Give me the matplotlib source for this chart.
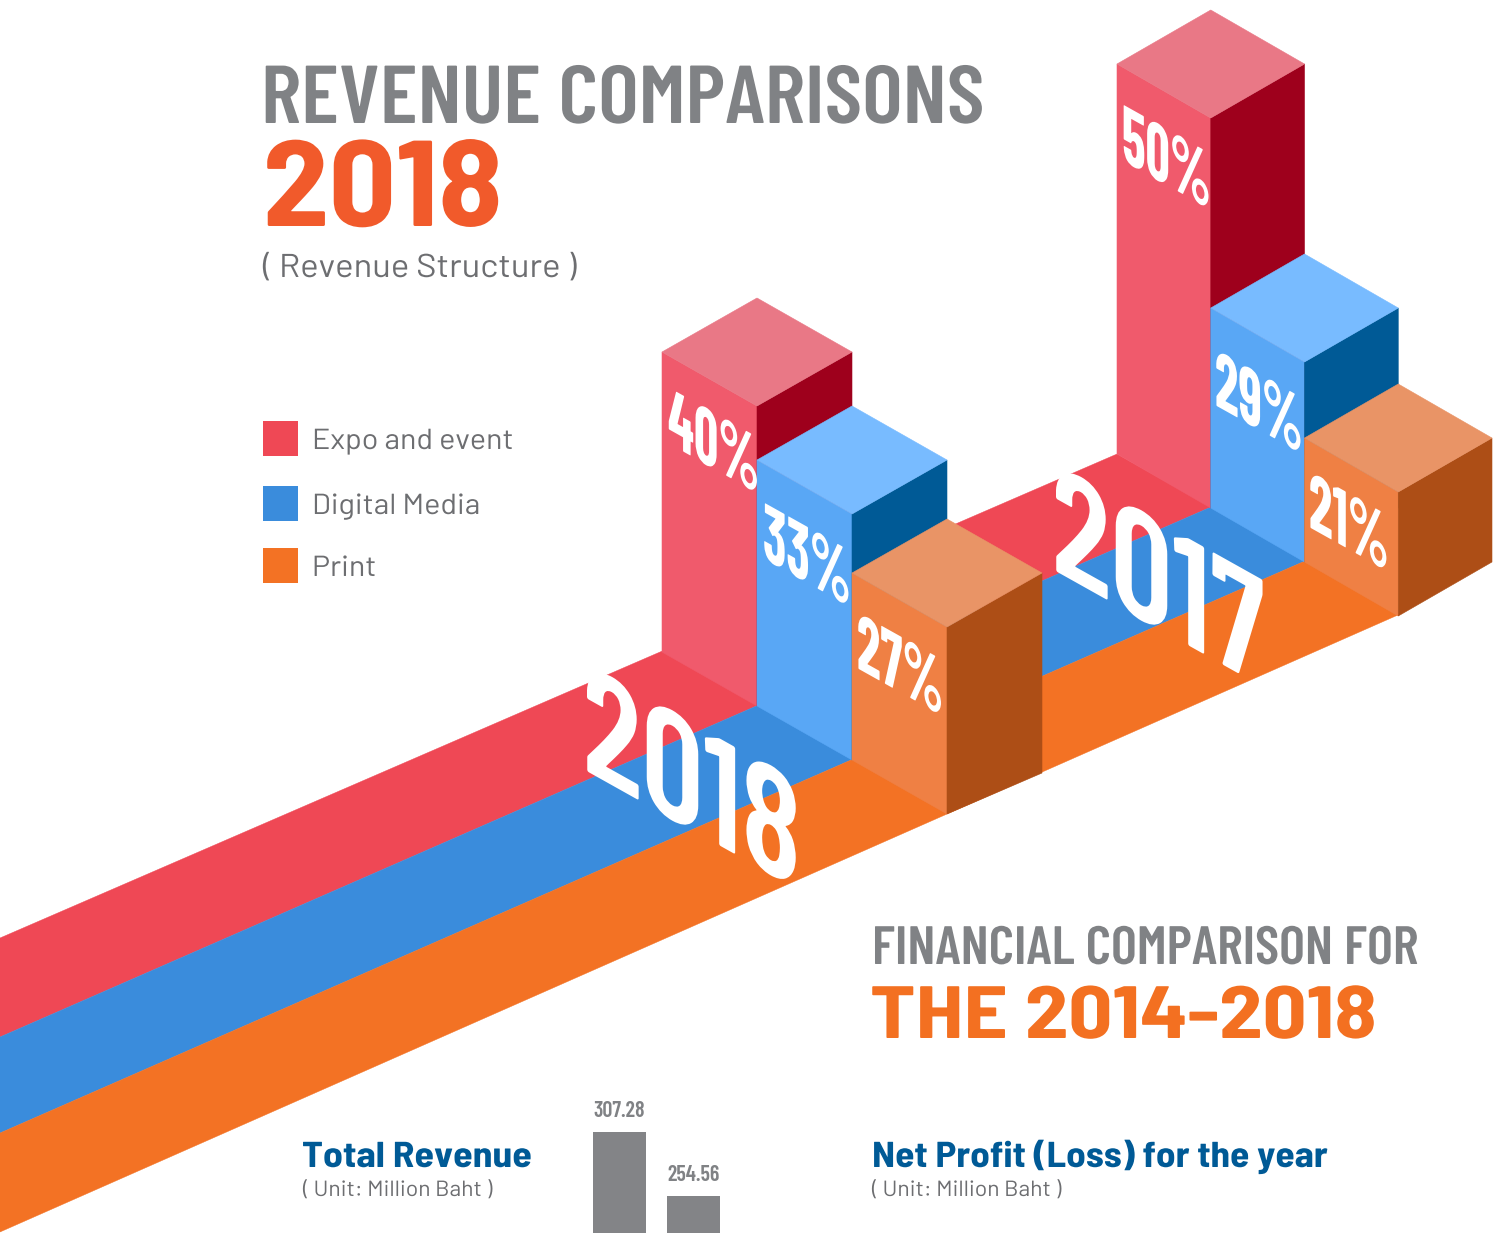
import matplotlib
matplotlib.use("Agg")
import matplotlib.pyplot as plt
from matplotlib.patches import Polygon, Rectangle
from matplotlib.patheffects import AbstractPathEffect
from matplotlib.transforms import Affine2D

# =========================
# Data
# =========================
categories = ["Expo and event", "Digital Media", "Print"]

years = ["2018", "2017"]
shares_2018 = [40, 33, 27]
shares_2017 = [50, 29, 21]

# drawn column heights, the picture does not scale them exactly with the shares
heights_2018 = [300, 246, 187]
heights_2017 = [390, 200, 124]

revenue_years = ["2014", "2015"]
total_revenue = [307.28, 254.56]

# =========================
# Configs
# =========================
W, H = 1502, 1233
FULL = ["Barlow", "DejaVu Sans"]
SEMI = ["Barlow Semi Condensed", "DejaVu Sans"]
COND = ["Barlow Condensed", "DejaVu Sans"]

RIBBON = ["#EF4855", "#3A8CDC", "#F37224"]
FRONT = ["#F05A6C", "#59A7F5", "#EF8044"]
TOP = ["#E97886", "#78BBFF", "#E99466"]
SIDE = ["#9E001C", "#005A96", "#AD4E16"]

GREY = "#808285"
DARK = "#6D6E71"
NAVY = "#005A96"

DY = 54
SLOPE = 0.56


class Warp(AbstractPathEffect):
    # stretch the glyphs sideways and shear them down the face of a column
    def __init__(self, stretch=1.0, slope=0.0):
        super().__init__()
        self.warp = Affine2D.from_values(stretch, -slope * stretch, 0, 1, 0, 0)

    def draw_path(self, renderer, gc, tpath, affine, rgbFace=None):
        renderer.draw_path(gc, tpath, self.warp + affine, rgbFace)


def px(size):
    return size * 0.72


def put_text(ax, x, y, s, color, family, size, stretch=1.0, weight="normal", slope=0.0, zorder=4):
    ax.text(x, y, s, color=color, family=family, fontsize=px(size), weight=weight, va="baseline",
            ha="left", zorder=zorder, path_effects=[Warp(stretch, slope)])


def draw_bars(ax, x0, y0, dx, heights, shares, label_pos, side_extra):
    for i, h in enumerate(heights):
        x = x0 + i * dx
        base = y0 + i * DY
        top = base - h
        extra = side_extra[i]

        ax.add_patch(Polygon([(x, top), (x + dx, top + DY), (x + dx, base + DY), (x, base)],
                             fc=FRONT[i], ec=FRONT[i], lw=0.4))
        ax.add_patch(Polygon([(x + dx, top + DY), (x + 2 * dx, top), (x + 2 * dx, base + extra), (x + dx, base + DY)],
                             fc=SIDE[i], ec=SIDE[i], lw=0.4))
        ax.add_patch(Polygon([(x, top), (x + dx, top - DY), (x + 2 * dx, top), (x + dx, top + DY)],
                             fc=TOP[i], ec=TOP[i], lw=0.4))

        put_text(ax, label_pos[i][0], label_pos[i][1], f"{shares[i]}%", "white", COND, 80,
                 stretch=0.67, weight="bold", slope=SLOPE, zorder=5)


def main():
    fig = plt.figure(figsize=(W / 100, H / 100), dpi=100)
    ax = fig.add_axes([0, 0, 1, 1])
    ax.set_xlim(0, W)
    ax.set_ylim(H, 0)
    ax.axis("off")

    # ribbons under the columns, one band per category
    left_y = [938, 1037, 1133, 1232]
    end_pts = [(1117, 454), (1211, 507), (1305, 561), (1398, 615)]
    for i in range(3):
        ax.add_patch(Polygon([(0, left_y[i]), end_pts[i], end_pts[i + 1], (0, left_y[i + 1])],
                             fc=RIBBON[i], ec=RIBBON[i], lw=0.3))

    # far year first so the near one covers it
    draw_bars(ax, 1117, 454, 93.75, heights_2017, shares_2017,
              [(1122, 160), (1215, 405), (1309, 527)], [0, 0, 0])
    draw_bars(ax, 662, 652, 95, heights_2018, shares_2018,
              [(668, 443), (763, 558), (857, 668)], [0, 0, 13])

    put_text(ax, 583, 769, years[0], "white", COND, 153, stretch=0.9, weight="semibold", slope=SLOPE, zorder=6)
    put_text(ax, 1052, 569, years[1], "white", COND, 153, stretch=0.9, weight="semibold", slope=SLOPE, zorder=6)

    # titles
    put_text(ax, 261, 123, "REVENUE COMPARISONS", GREY, COND, 82, stretch=1.06, weight="semibold")
    put_text(ax, 263, 226, "2018", "#F15A2B", SEMI, 122, stretch=1.08, weight="bold")
    put_text(ax, 263, 277, "( Revenue Structure )", DARK, FULL, 33, stretch=1.05)

    # legend
    for name, color, y in zip(categories, RIBBON, [421, 486, 548]):
        ax.add_patch(Rectangle((263, y), 35, 35, fc=color, ec="none"))
        put_text(ax, 312, y + 28, name, DARK, FULL, 29, stretch=1.05)

    put_text(ax, 872, 964, "FINANCIAL COMPARISON FOR", GREY, COND, 54, stretch=1.025, weight="semibold")
    put_text(ax, 870, 1038, "THE 2014-2018", "#F37021", SEMI, 74, stretch=1.17, weight="bold")

    put_text(ax, 302, 1167, "Total Revenue", NAVY, SEMI, 36, stretch=1.107, weight="bold")
    put_text(ax, 303, 1196, "( Unit: Million Baht )", DARK, FULL, 22, stretch=1.04)
    put_text(ax, 872, 1167, "Net Profit (Loss) for the year", NAVY, SEMI, 36, stretch=1.09, weight="bold")
    put_text(ax, 872, 1196, "( Unit: Million Baht )", DARK, FULL, 22, stretch=1.04)

    # small revenue chart, cut by the lower edge of the picture
    bar_ax = fig.add_axes([560 / W, 0, 200 / W, 140 / H])
    bar_ax.set_xlim(-0.804, -0.804 + 200 / 74)
    bar_ax.set_ylim(224.08, 224.08 + 140 / 1.214)
    bar_ax.axis("off")
    bars = bar_ax.bar(range(len(total_revenue)), total_revenue, width=0.716, color="#838487")
    bar_ax.bar_label(bars, labels=[f"{v:.2f}" for v in total_revenue], padding=8, color=GREY,
                     family=COND, weight="semibold", fontsize=px(22))

    fig.savefig("out.png", dpi=100)
    plt.close(fig)


if __name__ == "__main__":
    main()
